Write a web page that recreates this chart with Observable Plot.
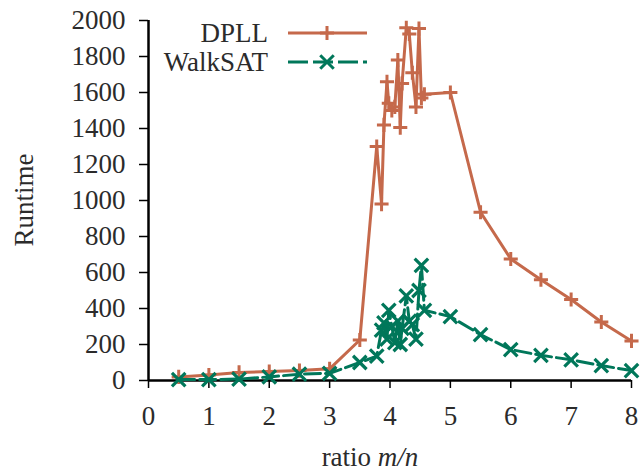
<!DOCTYPE html>
<html><head><meta charset="utf-8">
<script src="https://cdn.jsdelivr.net/npm/d3@7"></script>
<script src="https://cdn.jsdelivr.net/npm/@observablehq/plot@0.6"></script>
<style>
html,body{margin:0;padding:0;background:#fff;}
#wrap{position:relative;width:641px;height:472px;}
</style></head><body><div id="wrap"></div>
<script>
const ratio   = [0.5,1,1.5,2,2.5,3,3.5,3.78,3.86,3.9,3.95,3.98,4.03,4.08,4.13,4.17,4.2,4.27,4.32,4.37,4.43,4.48,4.52,4.57,5,5.5,6,6.5,7,7.5,8];
const dpll    = [20,30,45,50,55,65,225,1300,980,1420,1660,1540,1500,1520,1780,1405,1650,1960,1925,1710,1520,1955,1570,1590,1600,935,675,560,450,325,220];
const walksat = [5,5,8,20,35,40,100,135,280,320,230,390,300,210,330,200,290,470,330,310,230,500,640,390,355,255,172,140,115,83,55];
const seriesNames = ["DPLL","WalkSAT"];
const colors = ["#c5694b","#00775a"];
const xTicks = [0,1,2,3,4,5,6,7,8];
const yTicks = [0,200,400,600,800,1000,1200,1400,1600,1800,2000];

const dRows = ratio.map((r,i)=>({ratio:r, runtime:dpll[i]}));
const wRows = ratio.map((r,i)=>({ratio:r, runtime:walksat[i]}));

const FONT = "'Liberation Serif', serif";
const TXT = "#2b2b2b";
const RP = 4.6, RT = 6.2;
const chart = Plot.plot({
  width:641, height:472, marginLeft:148, marginRight:10, marginTop:20, marginBottom:92,
  style:{fontFamily:FONT, fontSize:"27px", color:TXT, background:"white", overflow:"visible"},
  x:{domain:[0,8]},
  y:{domain:[0,2000]},
  marks:[
    Plot.axisX({ticks:xTicks, tickSize:8, tickPadding:17, tickFormat:d=>String(d), label:null, stroke:"#000", strokeWidth:1.5, fill:TXT}),
    Plot.axisY({ticks:yTicks, tickSize:9, tickPadding:14, tickFormat:d=>String(d), label:null, stroke:"#000", strokeWidth:1.5, fill:TXT}),
    Plot.ruleX([0],{stroke:"#000", strokeWidth:2.5}),
    Plot.ruleY([0],{stroke:"#000", strokeWidth:2.5}),
    Plot.line(dRows,{x:"ratio", y:"runtime", stroke:colors[0], strokeWidth:3}),
    Plot.dot(dRows,{x:"ratio", y:"runtime", symbol:"plus", r:RP, stroke:colors[0], strokeWidth:3}),
    Plot.line(wRows,{x:"ratio", y:"runtime", stroke:colors[1], strokeWidth:3, strokeDasharray:"16,5"}),
    Plot.dot(wRows,{x:"ratio", y:"runtime", symbol:"times", r:RT, stroke:colors[1], strokeWidth:3.2})
  ]
});
document.getElementById("wrap").appendChild(chart);

const svg = d3.select(chart);
// axis titles
svg.append("text").attr("transform","translate(33,200) rotate(-90)")
  .attr("text-anchor","middle").attr("fill",TXT).attr("font-family",FONT).attr("font-size",27)
  .text("Runtime");
const xl = svg.append("text").attr("x",370).attr("y",466).attr("text-anchor","middle")
  .attr("fill",TXT).attr("font-family",FONT).attr("font-size",27);
xl.append("tspan").text("ratio ");
xl.append("tspan").attr("font-style","italic").text("m/n");

// legend
const leg = svg.append("g").attr("font-family",FONT).attr("font-size",27).attr("fill",TXT);
const symbols = [d3.symbolPlus, d3.symbolTimes];
const rs = [RP,RT];
const dashes = [null,"20,5"];
seriesNames.forEach((name,i)=>{
  const cy = 33 + i*29;
  leg.append("text").attr("x",268).attr("y",cy+9).attr("text-anchor","end").text(name);
  leg.append("line").attr("x1",288).attr("x2",367).attr("y1",cy).attr("y2",cy)
    .attr("stroke",colors[i]).attr("stroke-width",3).attr("stroke-dasharray",dashes[i]);
  leg.append("path").attr("transform",`translate(327,${cy})`)
    .attr("d",d3.symbol(symbols[i], rs[i]*rs[i]*Math.PI)())
    .attr("fill","none").attr("stroke",colors[i]).attr("stroke-width",3);
});
</script></body></html>
